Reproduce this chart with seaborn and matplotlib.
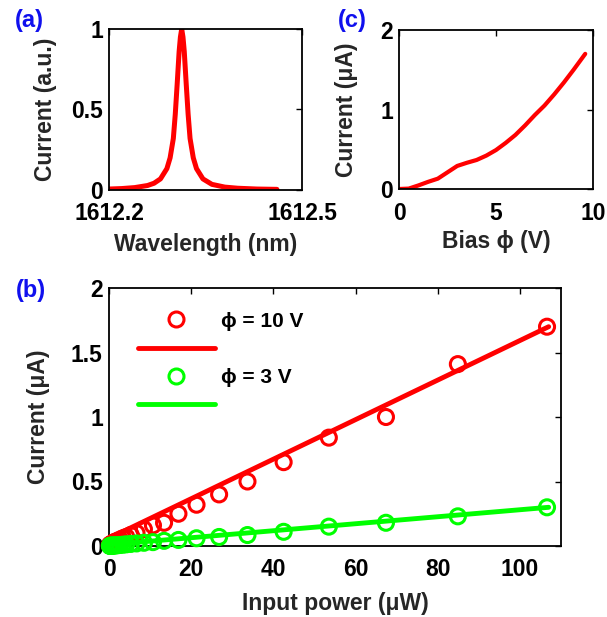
import numpy as np
import matplotlib
matplotlib.use("Agg")
import matplotlib.pyplot as plt
from matplotlib.lines import Line2D
import seaborn as sns

# ---------------- data ----------------
# (a) resonance spectrum
wavelength_nm = [1612.200, 1612.220, 1612.240, 1612.260, 1612.270, 1612.280, 1612.290,
                 1612.295, 1612.300, 1612.303, 1612.306, 1612.309, 1612.311, 1612.313,
                 1612.315, 1612.317, 1612.320, 1612.323, 1612.326, 1612.331, 1612.336,
                 1612.346, 1612.360, 1612.380, 1612.400, 1612.430, 1612.461]
spectrum_au = [0.006, 0.009, 0.015, 0.028, 0.042, 0.069, 0.133,
               0.20, 0.32, 0.47, 0.66, 0.86, 0.95, 1.00,
               0.95, 0.86, 0.66, 0.47, 0.32, 0.20, 0.133,
               0.069, 0.035, 0.018, 0.011, 0.006, 0.004]

# (c) current vs bias
bias_v = [0.0, 0.5, 1.0, 1.5, 2.0, 2.5, 3.0, 3.5, 4.0, 4.5, 5.0, 5.5,
          6.0, 6.5, 7.0, 7.5, 8.0, 8.5, 9.0, 9.6]
bias_current_ua = [0.0, 0.005, 0.045, 0.09, 0.13, 0.21, 0.29, 0.33, 0.365, 0.42, 0.49, 0.58,
                   0.68, 0.80, 0.93, 1.05, 1.19, 1.34, 1.50, 1.70]

# (b) current vs input power
power_uw = [106.6, 84.9, 67.4, 53.5, 42.5, 33.7, 26.8, 21.3, 16.9, 13.4, 10.7, 8.5,
            6.7, 5.3, 4.2, 3.4, 2.7, 2.1, 1.7, 1.3, 1.1, 0.85, 0.67, 0.53, 0.42,
            0.34, 0.27, 0.21]
current_10v = [1.70, 1.41, 1.00, 0.84, 0.65, 0.50, 0.40, 0.32, 0.25, 0.18, 0.16, 0.13,
               0.10, 0.085, 0.07, 0.06, 0.05, 0.04, 0.035, 0.03, 0.025, 0.02, 0.017,
               0.014, 0.012, 0.01, 0.008, 0.006]
current_3v = [0.30, 0.23, 0.18, 0.15, 0.11, 0.085, 0.07, 0.06, 0.047, 0.04, 0.03, 0.025,
              0.02, 0.016, 0.013, 0.01, 0.008, 0.006, 0.005, 0.004, 0.003, 0.003, 0.002,
              0.002, 0.001, 0.001, 0.001, 0.001]
fit_power = [0.0, 107.0]
fit_10v = [0.06, 1.70]
fit_3v = [0.01, 0.30]

# ---------------- style ----------------
sns.set_style("white")
plt.rcParams["font.family"] = ["Liberation Sans", "DejaVu Sans"]
plt.rcParams["font.weight"] = "bold"
plt.rcParams["axes.labelweight"] = "bold"

RED = "#ff0000"
GREEN = "#00ff00"
FS_TICK = 16.5
FS_LABEL = 16.5

W, H = 607, 617
fig = plt.figure(figsize=(W / 100, H / 100), dpi=100)


def rect(l, t, r, b):
    return [l / W, 1 - b / H, (r - l) / W, (b - t) / H]


ax_a = fig.add_axes(rect(109, 29, 302, 190))
ax_c = fig.add_axes(rect(399, 30, 593, 189))
ax_b = fig.add_axes(rect(109, 288, 561, 546))


def style(ax):
    for s in ax.spines.values():
        s.set_visible(True)
        s.set_color("black")
        s.set_linewidth(1.3)
    ax.tick_params(direction="in", top=True, right=True, length=4, width=1,
                   labelsize=FS_TICK, colors="black")
    ax.tick_params(axis="y", pad=4.5)
    ax.tick_params(axis="x", pad=9)
    for lab in ax.get_xticklabels() + ax.get_yticklabels():
        lab.set_fontweight("bold")
    ax.grid(False)


# ---- panel (a)
sns.lineplot(x=wavelength_nm, y=spectrum_au, ax=ax_a, color=RED, linewidth=3.6)
ax_a.set_xlim(1612.2, 1612.5)
ax_a.set_ylim(0, 1)
ax_a.set_xticks([1612.2, 1612.5])
ax_a.set_xticklabels(["1612.2", "1612.5"])
ax_a.set_yticks([0, 0.5, 1])
ax_a.set_yticklabels(["0", "0.5", "1"])
ax_a.set_xlabel("Wavelength (nm)", fontsize=FS_LABEL, fontweight="bold")
ax_a.set_ylabel("Current (a.u.)", fontsize=FS_LABEL, fontweight="bold")
ax_a.xaxis.set_label_coords(0.5, -0.27)
ax_a.yaxis.set_label_coords(-0.27, 0.5)
style(ax_a)

# ---- panel (c)
sns.lineplot(x=bias_v, y=bias_current_ua, ax=ax_c, color=RED, linewidth=3.0)
ax_c.set_xlim(0, 10)
ax_c.set_ylim(0, 2)
ax_c.set_xticks([0, 5, 10])
ax_c.set_yticks([0, 1, 2])
ax_c.set_xlabel("Bias ϕ (V)", fontsize=FS_LABEL, fontweight="bold")
ax_c.set_ylabel("Current (μA)", fontsize=FS_LABEL, fontweight="bold")
ax_c.xaxis.set_label_coords(0.5, -0.258)
ax_c.yaxis.set_label_coords(-0.211, 0.5)
style(ax_c)

# ---- panel (b)
sns.scatterplot(x=power_uw, y=current_10v, ax=ax_b, marker="o", s=117, color=RED,
                facecolor="none", edgecolor=RED, linewidth=2.2, clip_on=False, zorder=3)
sns.lineplot(x=fit_power, y=fit_10v, ax=ax_b, color=RED, linewidth=3.5, zorder=4)
sns.scatterplot(x=power_uw, y=current_3v, ax=ax_b, marker="o", s=117, color=GREEN,
                facecolor="none", edgecolor=GREEN, linewidth=2.2, clip_on=False, zorder=5)
sns.lineplot(x=fit_power, y=fit_3v, ax=ax_b, color=GREEN, linewidth=3.5, zorder=6)
ax_b.set_xlim(0, 110)
ax_b.set_ylim(0, 2)
ax_b.set_xticks([0, 20, 40, 60, 80, 100])
ax_b.set_yticks([0, 0.5, 1, 1.5, 2])
ax_b.set_yticklabels(["0", "0.5", "1", "1.5", "2"])
ax_b.set_xlabel("Input power (μW)", fontsize=FS_LABEL, fontweight="bold")
ax_b.set_ylabel("Current (μA)", fontsize=FS_LABEL, fontweight="bold")
ax_b.xaxis.set_label_coords(0.5, -0.178)
ax_b.yaxis.set_label_coords(-0.13, 0.5)
style(ax_b)

handles = [
    Line2D([], [], ls="none", marker="o", mfc="none", mec=RED, ms=10.8, mew=2.2),
    Line2D([], [], color=RED, lw=3.5),
    Line2D([], [], ls="none", marker="o", mfc="none", mec=GREEN, ms=10.8, mew=2.2),
    Line2D([], [], color=GREEN, lw=3.5),
]
labels = ["ϕ = 10 V", " ", "ϕ = 3 V", " "]
leg = ax_b.legend(handles, labels, loc="upper left", bbox_to_anchor=(0.064, 0.908),
                  frameon=False, borderpad=0, borderaxespad=0,
                  handlelength=3.7, handletextpad=0.3, labelspacing=0.44,
                  prop={"weight": "bold", "size": 15})
for t in leg.get_texts():
    t.set_color("black")

# panel letters
for txt, x, y in [("(a)", 29, 20), ("(c)", 352, 20), ("(b)", 31, 290)]:
    fig.text(x / W, 1 - y / H, txt, color="#1010ee", fontsize=17, fontweight="bold",
             ha="center", va="center")

fig.savefig("out.png", dpi=100)
